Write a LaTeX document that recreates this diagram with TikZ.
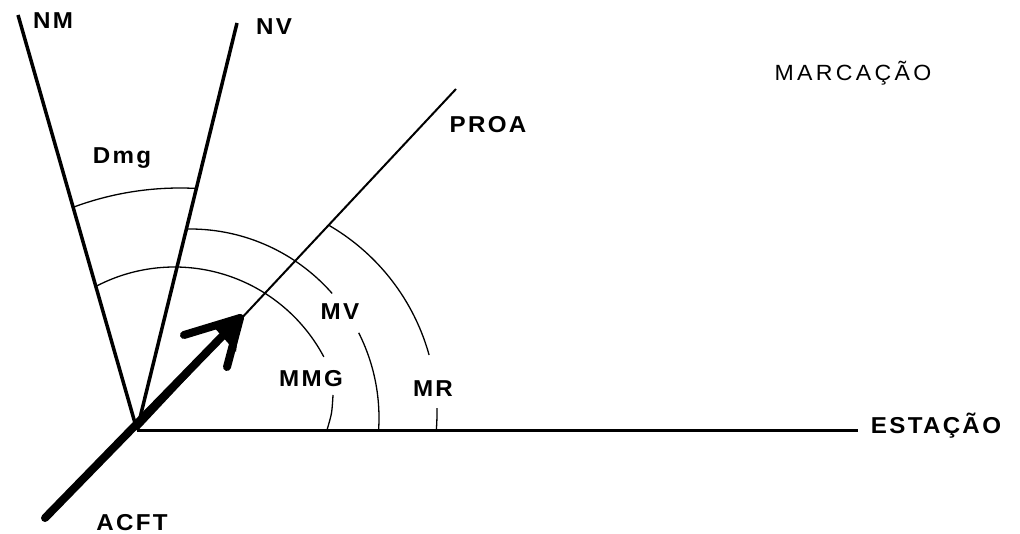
\documentclass[tikz,border=0pt]{standalone}
\usepackage{fontspec}
\setmainfont{Liberation Sans}
\newfontfamily\lblfont{Liberation Sans}[FakeStretch=1.05, LetterSpace=10]
\newfontfamily\reglblfont{Liberation Sans}[FakeStretch=1.05, LetterSpace=15]
\begin{document}
\begin{tikzpicture}[x=1pt,y=-1pt,
  lbl/.style={inner sep=0pt, font=\lblfont\bfseries\fontsize{23}{23}\selectfont},
  reglbl/.style={inner sep=0pt, font=\reglblfont\fontsize{22}{22}\selectfont},
  northline/.style={line width=3.5pt},
  arcline/.style={line width=1.3pt},
  arrowline/.style={line width=8pt, line cap=round, line join=round}]
\useasboundingbox (0,0) rectangle (1020,534);
% key points
\coordinate (O) at (137,430);
\coordinate (nm) at (18,15);
\coordinate (nv) at (237,23);
\coordinate (proa) at (456,89);
\coordinate (est) at (858,430);
\coordinate (acft) at (45,518);
\coordinate (tip) at (240,318);
\coordinate (b1) at (184,335);
\coordinate (b2) at (227,367);
% lines
\draw[northline] (O) -- (nm);
\draw[northline] (O) -- (nv);
\draw[line width=2pt] (O) -- (proa);
\draw[line width=3pt] (O) -- (est);
% arcs
% Dmg
\draw[arcline] plot[domain=-110.4:-87, samples=40] ({180+306*cos(\x)},{494+306*sin(\x)});
% MMG
\draw[arcline] plot[domain=-117.5:-27.9, samples=80] ({174.5+169*cos(\x)},{436+169*sin(\x)});
\draw[arcline] plot[smooth] coordinates {(333,395) (331.5,413) (327,430)};
% MV
\draw[arcline] plot[domain=-91.2:-41.2, samples=60] ({190+189*cos(\x)},{418+189*sin(\x)});
\draw[arcline] plot[domain=-26.8:3.7, samples=40] ({190+189*cos(\x)},{418+189*sin(\x)});
% MR
\draw[arcline] plot[domain=-60.1:-15.5, samples=60] ({220+217*cos(\x)},{413+217*sin(\x)});
\draw[arcline] plot[domain=-1.3:4.5, samples=10] ({220+217*cos(\x)},{413+217*sin(\x)});
% ACFT arrow
\draw[arrowline] (acft) -- (tip);
\fill (tip) -- (212,325) -- (236,352) -- cycle;
\draw[arrowline] (b1) -- (tip) -- (b2);
% labels
\node[lbl] (lnm) at (53,21) {NM};
\node[lbl] (lnv) at (274,27) {NV};
\node[lbl] (lproa) at (488,125) {PROA};
\node[reglbl] (lmarc) at (853,73) {MARCAÇÃO};
\node[lbl] (ldmg) at (122,158) {Dmg};
\node[lbl] (lmv) at (340,312) {MV};
\node[lbl] (lmmg) at (311,379) {MMG};
\node[lbl] (lmr) at (433,389) {MR};
\node[lbl] (lest) at (936,426) {ESTAÇÃO};
\node[lbl] (lacft) at (132,523) {ACFT};
\end{tikzpicture}
\end{document}
